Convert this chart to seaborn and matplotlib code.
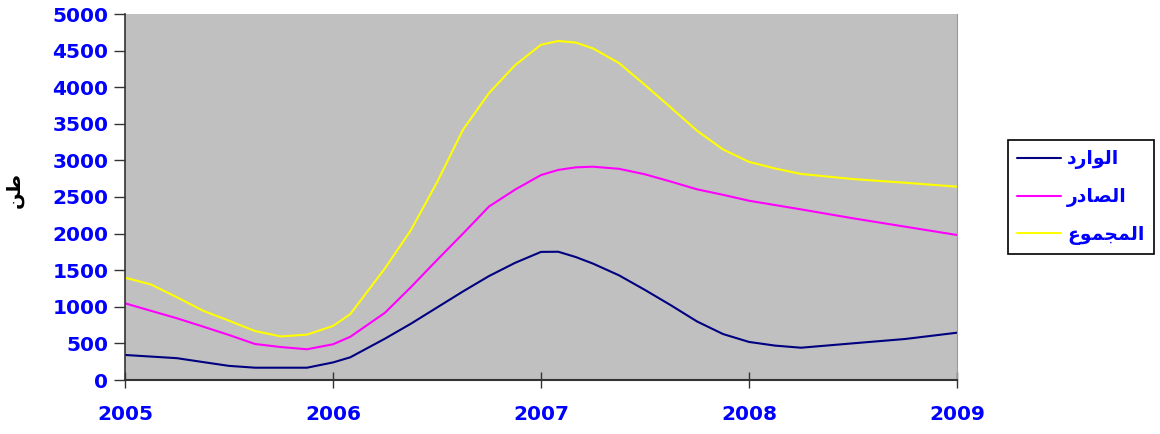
import matplotlib
matplotlib.use("Agg")
import matplotlib.pyplot as plt
import numpy as np
import pandas as pd
import seaborn as sns

# data (x in decimal years, values in tons)
years = [2005.0, 2005.125, 2005.25, 2005.375, 2005.5, 2005.625, 2005.75, 2005.875,
         2006.0, 2006.083, 2006.25, 2006.375, 2006.5, 2006.625, 2006.75, 2006.875,
         2007.0, 2007.083, 2007.167, 2007.25, 2007.375, 2007.5, 2007.625, 2007.75,
         2007.875, 2008.0, 2008.125, 2008.25, 2008.5, 2008.75, 2009.0]
incoming = [342, 320, 298, 245, 193, 168, 168, 168,
            240, 310, 565, 770, 990, 1210, 1420, 1600,
            1750, 1752, 1680, 1590, 1430, 1230, 1020, 800,
            628, 520, 470, 441, 501, 560, 646]
outgoing = [1048, 945, 843, 730, 615, 492, 450, 420,
            488, 590, 919, 1270, 1639, 2000, 2370, 2600,
            2800, 2870, 2905, 2914, 2885, 2810, 2710, 2605,
            2530, 2449, 2390, 2331, 2209, 2095, 1981]
total = [1398, 1305, 1130, 947, 810, 669, 595, 620,
         738, 900, 1526, 2050, 2700, 3420, 3920, 4300,
         4580, 4631, 4610, 4530, 4330, 4030, 3720, 3406,
         3150, 2980, 2890, 2815, 2745, 2695, 2641]

# Arabic labels, written with presentation forms in visual order
# (matplotlib does no shaping): الوارد / الصادر / المجموع / طن
lbl_in = "\uFEA9\uFEAD\uFE8D\uFEEE\uFEDF\uFE8D"
lbl_out = "\uFEAD\uFEA9\uFE8E\uFEBC\uFEDF\uFE8D"
lbl_tot = "\uFEC9\uFEEE\uFEE4\uFEA0\uFEE4\uFEDF\uFE8D"
lbl_ton = "\uFEE6\uFEC3"

df = pd.DataFrame({
    "year": years * 3,
    "value": incoming + outgoing + total,
    "series": [lbl_in] * len(years) + [lbl_out] * len(years) + [lbl_tot] * len(years),
})

sns.set_style("ticks")
plt.rcParams['font.family'] = ['DejaVu Sans']

fig = plt.figure(figsize=(11.6, 4.34), dpi=100)
ax = fig.add_axes([125 / 1160, 54 / 434, 832 / 1160, 366 / 434])
ax.set_facecolor("#c0c0c0")

sns.lineplot(data=df, x="year", y="value", hue="series",
             palette={lbl_in: "#000080", lbl_out: "#ff00ff", lbl_tot: "#ffff00"},
             linewidth=1.5, ax=ax)

ax.set_xlim(2005, 2009)
ax.set_ylim(0, 5000)
ax.set_xticks([2005, 2006, 2007, 2008, 2009])
ax.set_yticks(np.arange(0, 5001, 500))
ax.set_xlabel("")
ax.set_ylabel(lbl_ton, fontsize=14, fontweight="bold", color="black")
ax.yaxis.set_label_coords(-0.122, 0.52)

for lab in ax.get_xticklabels() + ax.get_yticklabels():
    lab.set_color("#0000ff")
    lab.set_fontweight("bold")
    lab.set_fontsize(14.5)
ax.tick_params(axis="y", direction="out", length=8, width=1, color="#333333", pad=4)
ax.tick_params(axis="x", direction="inout", length=12, width=1, color="#333333", pad=12)

ax.spines["top"].set_visible(False)
ax.spines["right"].set_color("#999999")
ax.spines["left"].set_color("#333333")
ax.spines["bottom"].set_color("#333333")
ax.spines["left"].set_linewidth(1.2)
ax.spines["bottom"].set_linewidth(1.5)

leg = ax.legend(loc="upper left", bbox_to_anchor=(1008 / 1160, 1 - 140 / 434),
                bbox_transform=fig.transFigure, frameon=True, fancybox=False,
                edgecolor="black", framealpha=1, handlelength=2.3, handletextpad=0.35,
                borderaxespad=0, labelspacing=0.95, borderpad=0.5,
                prop={"weight": "bold", "size": 13.5})
leg.get_frame().set_linewidth(1.2)
for t in leg.get_texts():
    t.set_color("#0000ff")

fig.savefig("out.png", dpi=100, facecolor="white")
